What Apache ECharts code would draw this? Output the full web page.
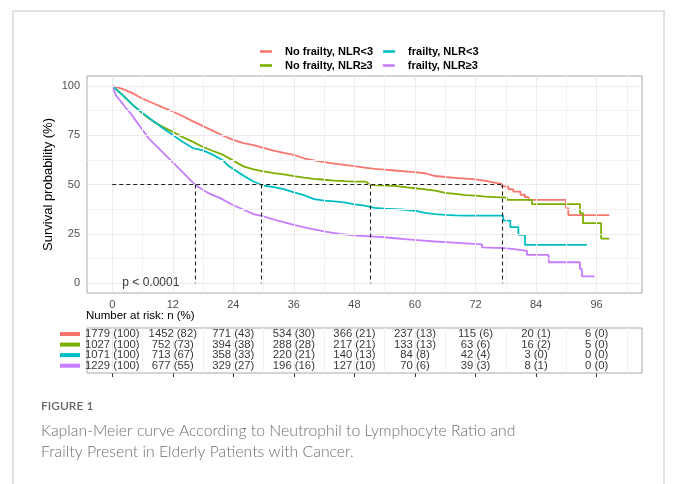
<!DOCTYPE html>
<html><head><meta charset="utf-8">
<script src="https://cdn.jsdelivr.net/npm/echarts@6/dist/echarts.min.js"></script>
<style>html,body{margin:0;padding:0;background:#fff}#c{width:677px;height:484px}</style>
</head><body><div id="c"></div>
<script>
const groupNames = ['No frailty, NLR<3', 'No frailty, NLR≥3', 'frailty, NLR<3', 'frailty, NLR≥3'];
const groupColors = ['#F8766D', '#7CAE00', '#00BFC4', '#C77CFF'];

// Kaplan-Meier curves [month, survival %]
const curveNoFrailLow = [[0,100],[2,98.5],[4,96.3],[6,93.5],[8,91.3],[10,89.1],[12,87],[14,84.6],[16,82],[18,79.6],[20,77.2],[22,74.7],[24,72.6],[26,71],[28,69.9],[30,68.6],[32,67.2],[34,66],[36,65],[38,63.3],[40,62.2],[42,61.3],[44,60.6],[46,60],[48,59.3],[50,58.6],[52,57.9],[54,57.5],[56,57.1],[58,56.7],[60,56.3],[62,55.7],[64,54.3],[66,53.8],[68,53.4],[70,53],[72,52.6],[74,51.8],[76,50.8],[77.2,50.3],[77.2,49],[78.5,49],[78.5,47.6],[79.5,47.6],[79.5,46.4],[80.9,46.4],[80.9,44.8],[81.8,44.8],[81.8,43.6],[82.5,43.6],[82.5,42.2],[89.9,42.2],[89.9,38],[90.4,38],[90.4,34.5],[98.5,34.5]];
const curveNoFrailHigh = [[0,100],[2,95.5],[4,90.5],[6,86],[8,82.2],[10,79.2],[12,76.7],[14,74],[16,71.6],[18,69],[20,67],[22,65],[24,62.1],[26,59.2],[28,57.7],[30,56.6],[32,55.8],[34,55.1],[36,54.3],[38,53.5],[40,52.9],[42,52.4],[44,52],[46,51.7],[48,51.5],[50.2,51.5],[50.6,50.8],[51.1,49.8],[54,49.5],[56,49.3],[58,48.7],[60,48.1],[62,47.5],[64,46.9],[66,45.8],[68,45.2],[70,44.6],[72,44.4],[74,43.9],[76,43.6],[78.2,43.4],[78.2,42.2],[83.2,42.2],[83.2,40.1],[92.7,40.1],[92.7,35.5],[93.3,35.5],[93.3,30.4],[96.9,30.4],[96.9,22.6],[98.5,22.6]];
const curveFrailLow = [[0,100],[2,95.4],[4,90.5],[6,86.3],[8,82.4],[10,78.6],[12,75.1],[14,71.5],[16,68.5],[18,67.3],[20,65],[22,62.2],[23,59.5],[24,57.8],[26,54.5],[28,51.5],[29.4,50],[30,49.5],[32,48.7],[34,47.7],[36,46],[38,44.6],[40,42.6],[42,41.8],[44,41.4],[46,40.9],[48,39.9],[50,39.3],[52,38.2],[54,37.8],[56,37.5],[58,37.2],[60,36.7],[62,35.6],[64,35],[66,34.6],[68,34.3],[70,34.2],[77.5,34.2],[77.5,31.7],[78.9,31.7],[78.9,28.4],[80.5,28.4],[80.5,24.5],[81.8,24.5],[81.8,19.4],[94.1,19.4]];
const curveFrailHigh = [[0,100],[0.3,98],[0.7,95.4],[1.3,93.4],[2,91.2],[2.8,88.5],[3.6,86.2],[4.5,83],[5.3,80.2],[6.2,77],[7.2,73.5],[8.2,70.8],[9.2,68.4],[10.5,65],[11.9,61.6],[13.2,58.2],[14.5,54.9],[15.5,52.2],[16.5,49.8],[17.8,47.6],[19.1,45.6],[20.2,44.4],[21.4,43.1],[24,39.5],[26.1,37.2],[28,35],[30,33.8],[33,31.5],[36,29.5],[39,27.8],[42,26.2],[45,25],[48.5,24.1],[52,23.6],[55,23],[58,22.3],[61,21.7],[64,21.1],[67,20.7],[70,20.2],[73.3,19.6],[73.3,18.1],[76,17.9],[77.5,17.8],[77.5,17.4],[79.2,17.4],[79.2,16.4],[82.2,16.4],[82.2,14.3],[86.5,14.3],[86.5,10.6],[92.7,10.6],[92.7,7.1],[93.1,7.1],[93.1,3.4],[95.6,3.4]];

const medianMonths = [16.5, 29.5, 51.1, 77.3];
const pValueText = 'p < 0.0001';

const xTicks = [0, 12, 24, 36, 48, 60, 72, 84, 96];
const yTicks = [0, 25, 50, 75, 100];

// Number at risk
const riskNoFrailLowN = [1779, 1452, 771, 534, 366, 237, 115, 20, 6];
const riskNoFrailLowPct = [100, 82, 43, 30, 21, 13, 6, 1, 0];
const riskNoFrailHighN = [1027, 752, 394, 288, 217, 133, 63, 16, 5];
const riskNoFrailHighPct = [100, 73, 38, 28, 21, 13, 6, 2, 0];
const riskFrailLowN = [1071, 713, 358, 220, 140, 84, 42, 3, 0];
const riskFrailLowPct = [100, 67, 33, 21, 13, 8, 4, 0, 0];
const riskFrailHighN = [1229, 677, 329, 196, 127, 70, 39, 8, 0];
const riskFrailHighPct = [100, 55, 27, 16, 10, 6, 3, 1, 0];
const riskRows = [1, 2, 3, 4];

const captionLabel = 'FIGURE 1';
const captionText = 'Kaplan-Meier curve According to Neutrophil to Lymphocyte Ratio and\nFrailty Present in Elderly Patients with Cancer.';

const FONT = '"Liberation Sans", Arial, sans-serif';
const CAPFONT = 'Lato, "Open Sans", sans-serif';
const curves = [curveNoFrailLow, curveNoFrailHigh, curveFrailLow, curveFrailHigh];
const riskN = [riskNoFrailLowN, riskNoFrailHighN, riskFrailLowN, riskFrailHighN];
const riskPct = [riskNoFrailLowPct, riskNoFrailHighPct, riskFrailLowPct, riskFrailHighPct];

const xMinor = xTicks.map(v => v + 6);
const yMinor = yTicks.slice(0, -1).map(v => v + 12.5);
const gridMajor = '#ebebeb', gridMinor = '#f2f2f2';

const plotGridLines = [
  ...xMinor.map(v => ({xAxis: v, lineStyle: {color: gridMinor, width: 1, type: 'solid'}})),
  ...yMinor.map(v => ({yAxis: v, lineStyle: {color: gridMinor, width: 1, type: 'solid'}})),
  ...xTicks.map(v => ({xAxis: v, lineStyle: {color: gridMajor, width: 1, type: 'solid'}})),
  ...yTicks.map(v => ({yAxis: v, lineStyle: {color: gridMajor, width: 1, type: 'solid'}}))
];
const tableGridLines = [
  ...xMinor.map(v => ({xAxis: v, lineStyle: {color: gridMinor, width: 1, type: 'solid'}})),
  ...xTicks.map(v => ({xAxis: v, lineStyle: {color: gridMajor, width: 1, type: 'solid'}}))
];

const medianLines = [[{coord: [0, 50]}, {coord: [Math.max(...medianMonths), 50]}]]
  .concat(medianMonths.map(m => [{coord: [m, 50]}, {coord: [m, 0]}]));

const riskData = [];
riskN.forEach((arr, g) => arr.forEach((n, i) => riskData.push([xTicks[i], riskRows[g], n + ' (' + riskPct[g][i] + ')'])));

const series = [
  {type: 'line', xAxisIndex: 0, yAxisIndex: 0, data: [], z: 0, silent: true,
   markLine: {silent: true, symbol: ['none', 'none'], label: {show: false}, animation: false, data: plotGridLines}},
  ...curves.map((c, i) => ({
    name: groupNames[i], type: 'line', xAxisIndex: 0, yAxisIndex: 0, data: c,
    showSymbol: false, symbol: 'none', z: 3,
    lineStyle: {color: groupColors[i], width: 1.8}, itemStyle: {color: groupColors[i]}
  })),
  {type: 'line', xAxisIndex: 0, yAxisIndex: 0, data: [], z: 5, silent: true,
   markLine: {silent: true, symbol: ['none', 'none'], label: {show: false}, animation: false,
     lineStyle: {color: '#222', width: 1.1, type: [4, 3]}, data: medianLines}},
  {type: 'scatter', xAxisIndex: 0, yAxisIndex: 0, data: [[2, 0]], symbolSize: 0, silent: true, z: 6,
   label: {show: true, position: 'right', distance: 0, formatter: pValueText, color: '#000', fontSize: 12, fontFamily: FONT}},
  {type: 'line', xAxisIndex: 1, yAxisIndex: 1, data: [], z: 0, silent: true,
   markLine: {silent: true, symbol: ['none', 'none'], label: {show: false}, animation: false, data: tableGridLines}},
  {type: 'scatter', xAxisIndex: 1, yAxisIndex: 1, data: riskData, symbolSize: 0, silent: true, z: 6,
   label: {show: true, position: 'inside', formatter: p => p.value[2], color: '#000', fontSize: 11.3, fontFamily: FONT}}
];

const rich = {};
groupColors.forEach((c, i) => { rich['c' + i] = {width: 20, height: 4, lineHeight: 4, fontSize: 4, backgroundColor: c}; });

const legendBase = {
  icon: 'rect', itemWidth: 12, itemHeight: 2.6, itemGap: 10, orient: 'horizontal', padding: 0,
  textStyle: {fontSize: 11, fontWeight: 'bold', color: '#000', fontFamily: FONT, padding: [0, 0, 0, 8], width: 89},
  selectedMode: false
};

const option = {
  animation: false,
  backgroundColor: '#fff',
  graphic: [{type: 'rect', shape: {x: 13, y: 11, width: 651, height: 520}, style: {fill: 'none', stroke: '#e2e2e2', lineWidth: 2}, silent: true}],
  title: [
    {text: 'Number at risk: n (%)', left: 86, top: 310, padding: 0, textStyle: {fontSize: 11.5, fontWeight: 'normal', color: '#000', fontFamily: FONT}},
    {text: captionLabel, left: 41, top: 400, padding: 0, textStyle: {fontSize: 12, fontWeight: 600, color: '#666', fontFamily: CAPFONT}},
    {text: captionText, left: 41, top: 420, padding: 0, textStyle: {fontSize: 15.8, fontWeight: 300, lineHeight: 21, color: '#6e6e6e', fontFamily: CAPFONT}}
  ],
  legend: [
    Object.assign({}, legendBase, {data: [groupNames[0], groupNames[2]], left: 260, top: 46}),
    Object.assign({}, legendBase, {data: [groupNames[1], groupNames[3]], left: 260, top: 60})
  ],
  grid: [
    {left: 87, top: 76, width: 555, height: 217, show: true, borderColor: '#a8a8a8', borderWidth: 1, backgroundColor: 'transparent', z: 4},
    {left: 87, top: 328, width: 555, height: 45, show: true, borderColor: '#a8a8a8', borderWidth: 1, backgroundColor: 'transparent', z: 4}
  ],
  xAxis: [
    {type: 'value', gridIndex: 0, min: -5, max: 105, axisLine: {show: false}, splitLine: {show: false},
     axisTick: {show: true, customValues: xTicks, length: 4, lineStyle: {color: '#333'}},
     axisLabel: {customValues: xTicks, color: '#4d4d4d', fontSize: 11, fontFamily: FONT, margin: 6}},
    {type: 'value', gridIndex: 1, min: -5, max: 105, axisLine: {show: false}, splitLine: {show: false},
     axisTick: {show: true, customValues: xTicks, length: 4, lineStyle: {color: '#333'}},
     axisLabel: {show: false}}
  ],
  yAxis: [
    {type: 'value', gridIndex: 0, min: -5, max: 105, axisLine: {show: false}, splitLine: {show: false},
     axisTick: {show: true, customValues: yTicks, length: 4, lineStyle: {color: '#333'}},
     axisLabel: {customValues: yTicks, color: '#4d4d4d', fontSize: 11, fontFamily: FONT, margin: 7},
     name: 'Survival probability (%)', nameLocation: 'middle', nameRotate: 90, nameGap: 32, nameMoveOverlap: false,
     nameTextStyle: {fontSize: 13, color: '#000', fontFamily: FONT}},
    {type: 'value', gridIndex: 1, min: 0.43, max: 4.69, inverse: true, axisLine: {show: false}, splitLine: {show: false},
     axisTick: {show: false},
     axisLabel: {customValues: riskRows, margin: 7, showMinLabel: true, showMaxLabel: true, hideOverlap: false,
       fontSize: 4, lineHeight: 4,
       formatter: v => '{c' + (v - 1) + '| }', rich: rich}}
  ],
  series: series
};

const chart = echarts.init(document.getElementById('c'), null, {renderer: 'canvas'});
chart.setOption(option);
</script></body></html>
